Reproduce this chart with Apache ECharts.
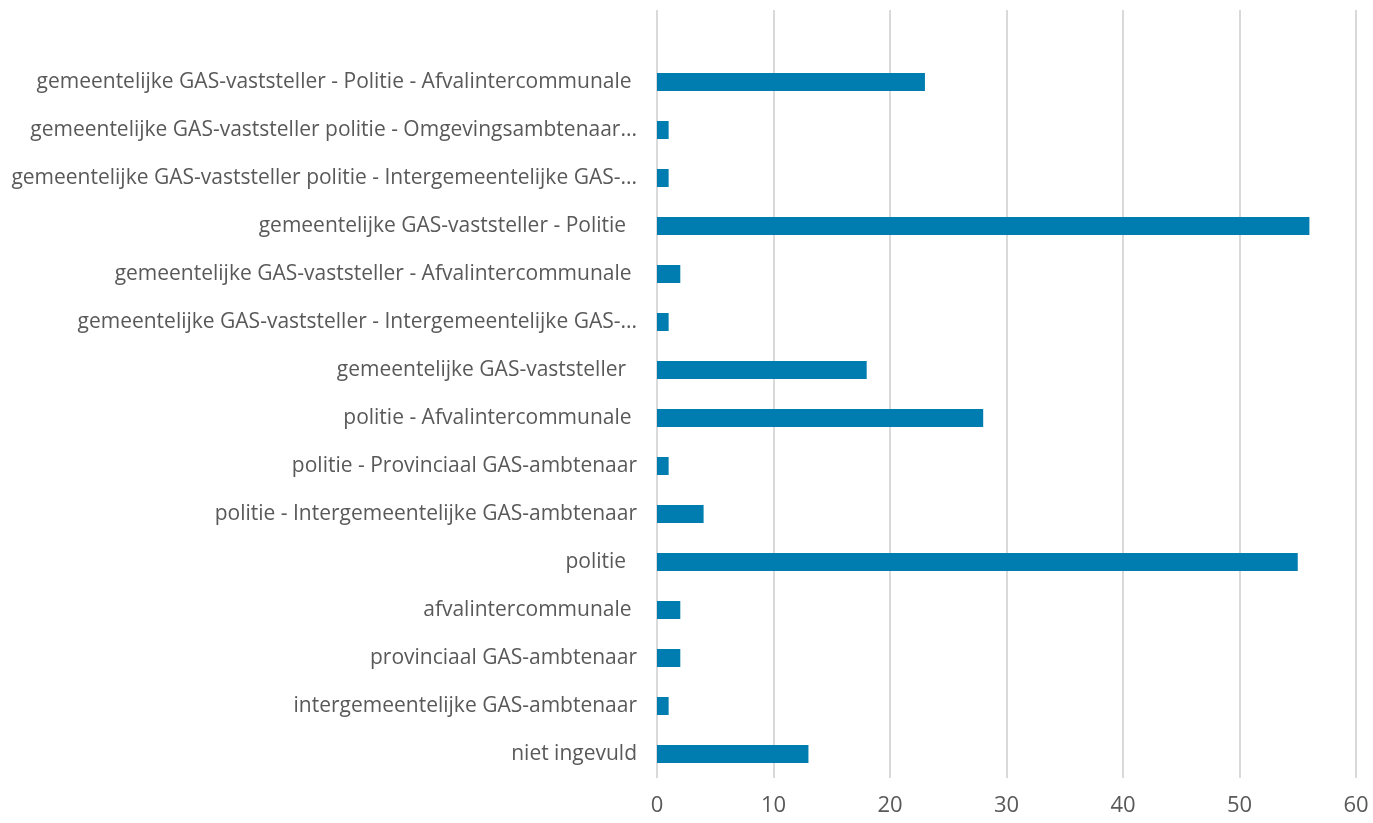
<!DOCTYPE html>
<html>
<head>
<meta charset="utf-8">
<script src="https://cdn.jsdelivr.net/npm/echarts@6/dist/echarts.min.js"></script>
<style>
html,body{margin:0;padding:0;background:#fff;}
#chart{width:1373px;height:823px;}
</style>
</head>
<body>
<div id="chart"></div>
<script>
var categories = [
  "",
  "gemeentelijke GAS-vaststeller - Politie - Afvalintercommunale ",
  "gemeentelijke GAS-vaststeller politie - Omgevingsambtenaar...",
  "gemeentelijke GAS-vaststeller politie - Intergemeentelijke GAS-...",
  "gemeentelijke GAS-vaststeller - Politie  ",
  "gemeentelijke GAS-vaststeller - Afvalintercommunale ",
  "gemeentelijke GAS-vaststeller - Intergemeentelijke GAS-...",
  "gemeentelijke GAS-vaststeller  ",
  "politie - Afvalintercommunale ",
  "politie - Provinciaal GAS-ambtenaar",
  "politie - Intergemeentelijke GAS-ambtenaar",
  "politie  ",
  "afvalintercommunale ",
  "provinciaal GAS-ambtenaar",
  "intergemeentelijke GAS-ambtenaar",
  "niet ingevuld"
];
var values = [null, 23, 1, 1, 56, 2, 1, 18, 28, 1, 4, 55, 2, 2, 1, 13];
var xTicks = [0, 10, 20, 30, 40, 50, 60];

var chart = echarts.init(document.getElementById('chart'), null, {renderer: 'canvas'});
chart.setOption({
  animation: false,
  grid: {left: 657, right: 17, top: 10, bottom: 45, containLabel: false},
  xAxis: {
    type: 'value',
    min: xTicks[0],
    max: xTicks[xTicks.length - 1],
    interval: 10,
    axisLine: {show: false},
    axisTick: {show: false},
    splitLine: {show: true, lineStyle: {color: '#d9d9d9', width: 2}},
    axisLabel: {color: '#595959', fontSize: 22, fontFamily: 'Open Sans', margin: 17}
  },
  yAxis: {
    type: 'category',
    inverse: true,
    data: categories,
    axisLine: {show: false},
    axisTick: {show: false},
    splitLine: {show: false},
    axisLabel: {color: '#595959', fontSize: 21, fontFamily: 'Open Sans', margin: 20, interval: 0}
  },
  series: [{
    type: 'bar',
    data: values,
    barWidth: 18,
    itemStyle: {color: '#007db0'}
  }]
});
</script>
</body>
</html>
